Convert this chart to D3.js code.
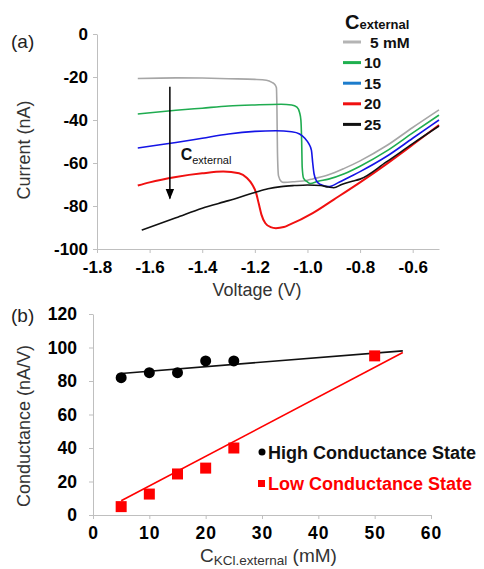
<!DOCTYPE html>
<html>
<head>
<meta charset="utf-8">
<script src="https://cdn.jsdelivr.net/npm/d3@7/dist/d3.min.js"></script>
<style>
  body { margin: 0; background: #fff; }
  svg { font-family: "Liberation Sans", Arial, sans-serif; }
  .tick text { font-weight: bold; fill: #000; }
  .domain, .tick line { stroke: #bfbfbf; }
</style>
</head>
<body>
<div id="chart"></div>
<script>
// ---- panel (a): I-V curves, [voltage V, current nA]
const curve5 = [[-1.645,-20.7],[-1.5,-20.4],[-1.4,-20.5],[-1.3,-20.8],[-1.2,-21.1],[-1.156,-21.5],[-1.135,-22.5],
  [-1.124,-23.5],[-1.118,-25],[-1.116,-35],[-1.114,-55],[-1.11,-66],[-1.1,-68.5],[-1.09,-69],[-1.05,-68.7],
  [-1.0,-68],[-0.98,-67.4],[-0.92,-65.5],[-0.86,-62.5],[-0.8,-59],[-0.7,-52],[-0.6,-43.5],[-0.5,-35.3]];
const curve10 = [[-1.645,-37.2],[-1.5,-35.5],[-1.4,-34.5],[-1.3,-33.5],[-1.2,-33],[-1.1,-32.7],[-1.06,-33],
  [-1.04,-34],[-1.03,-36.5],[-1.025,-40],[-1.022,-50],[-1.02,-62],[-1.015,-67],[-1.0,-68.8],[-0.99,-69.5],
  [-0.96,-68.5],[-0.92,-67.5],[-0.86,-65],[-0.8,-61.5],[-0.7,-54.5],[-0.6,-46],[-0.5,-37.7]];
const curve15 = [[-1.645,-53],[-1.5,-50.5],[-1.4,-48.5],[-1.3,-46.5],[-1.2,-45.3],[-1.12,-45],[-1.06,-45.5],
  [-1.03,-46.5],[-1.01,-48.5],[-0.995,-51],[-0.985,-54],[-0.98,-60],[-0.975,-65],[-0.965,-68.5],[-0.95,-70],
  [-0.92,-71],[-0.88,-69],[-0.84,-66.5],[-0.8,-64],[-0.7,-57],[-0.6,-48.5],[-0.5,-40]];
const curve20 = [[-1.645,-70.5],[-1.6,-69],[-1.5,-66.5],[-1.4,-64.8],[-1.32,-64],[-1.26,-64.8],[-1.23,-67],
  [-1.21,-70],[-1.195,-74],[-1.185,-79],[-1.175,-84],[-1.16,-88],[-1.14,-89.8],[-1.12,-90.3],[-1.09,-89.8],
  [-1.07,-88.8],[-0.98,-83.3],[-0.9,-77],[-0.8,-69],[-0.7,-60.5],[-0.6,-51.5],[-0.5,-42.3]];
const curve25 = [[-1.63,-91.2],[-1.5,-85.5],[-1.4,-81],[-1.3,-77.5],[-1.2,-73.7],[-1.15,-72],[-1.1,-71],
  [-1.05,-70.5],[-1.0,-70.2],[-0.95,-70.5],[-0.92,-71.2],[-0.9,-71.5],[-0.87,-70],[-0.83,-68.5],[-0.8,-67.5],
  [-0.7,-59.5],[-0.6,-51],[-0.5,-42.8]];

const ivLabels = ["5 mM", "10", "15", "20", "25"];
const ivColors = ["#a6a6a6", "#1fac50", "#1414e6", "#f01010", "#111111"];
const legendColors = ["#b4b4b4", "#1fb04f", "#1c7ccc", "#f01010", "#111111"];
const ivCurves = [curve5, curve10, curve15, curve20, curve25];

const voltTicks = [-1.8, -1.6, -1.4, -1.2, -1.0, -0.8, -0.6];
const currTicks = [0, -20, -40, -60, -80, -100];

// ---- panel (b): conductance vs external KCl
const concHigh = [5, 10, 15, 20, 25];
const condHigh = [82, 85, 85, 92, 92];
const concLow = [5, 10, 15, 20, 25, 50];
const condLow = [5, 12.5, 24.5, 28, 40, 95];
const fitHigh = [[5, 84.5], [55, 98]];
const fitLow = [[5, 8.5], [55, 97]];
const concTicks = [0, 10, 20, 30, 40, 50, 60];
const condTicks = [0, 20, 40, 60, 80, 100, 120];

const svg = d3.select("#chart").append("svg")
  .attr("width", 484).attr("height", 569);

// arrowhead
svg.append("defs").append("marker")
  .attr("id", "arrow").attr("viewBox", "0 0 10 10")
  .attr("refX", 9).attr("refY", 5)
  .attr("markerWidth", 7).attr("markerHeight", 7)
  .attr("orient", "auto")
  .append("path").attr("d", "M0,1 L10,5 L0,9 Z").attr("fill", "#000");

// ================= (a)
const xA = d3.scaleLinear().domain([-1.8, -0.5]).range([97, 439]);
const yA = d3.scaleLinear().domain([-100, 0]).range([249, 34]);

svg.append("g")
  .attr("transform", "translate(0,249)")
  .call(d3.axisBottom(xA).tickValues(voltTicks).tickFormat(d => d.toFixed(1))
    .tickSize(4).tickSizeOuter(0).tickPadding(8))
  .call(g => g.selectAll("text").style("font-size", "17px"));

svg.append("g")
  .attr("transform", "translate(97,0)")
  .call(d3.axisLeft(yA).tickValues(currTicks).tickFormat(d => String(d))
    .tickSize(4).tickSizeOuter(0).tickPadding(5))
  .call(g => g.selectAll("text").style("font-size", "17px"));

const line = d3.line()
  .x(d => xA(d[0])).y(d => yA(d[1]))
  .curve(d3.curveMonotoneX);

svg.append("g").selectAll("path")
  .data(ivCurves)
  .join("path")
  .attr("d", line)
  .attr("fill", "none")
  .attr("stroke", (d, i) => ivColors[i])
  .attr("stroke-width", (d, i) => i === 3 ? 2 : 1.6);

// arrow C_external
svg.append("line")
  .attr("x1", xA(-1.523)).attr("x2", xA(-1.523))
  .attr("y1", yA(-24.5)).attr("y2", yA(-76.5))
  .attr("stroke", "#000").attr("stroke-width", 1.5)
  .attr("marker-end", "url(#arrow)");

const arrowLbl = svg.append("text")
  .attr("x", xA(-1.482)).attr("y", yA(-58.5))
  .style("font-size", "16px").style("font-weight", "bold").attr("fill", "#111");
arrowLbl.append("tspan").text("C");
arrowLbl.append("tspan").attr("dy", 4).style("font-size", "11px").style("font-weight", "normal").text("external");

// legend (a)
const legTitle = svg.append("text").attr("x", 345).attr("y", 29).style("font-weight", "bold").attr("fill", "#111");
legTitle.append("tspan").style("font-size", "20px").text("C");
legTitle.append("tspan").style("font-size", "13px").text("external");

const legA = svg.append("g").selectAll("g")
  .data(ivLabels)
  .join("g")
  .attr("transform", (d, i) => `translate(0,${42 + i * 20.6})`);
legA.append("line")
  .attr("x1", 343).attr("x2", 361)
  .attr("stroke", (d, i) => legendColors[i])
  .attr("stroke-width", 3);
legA.append("text")
  .attr("x", (d, i) => i === 0 ? 370 : 364)
  .attr("y", 5.5)
  .style("font-size", "15.5px").style("font-weight", "bold").attr("fill", "#111")
  .text(d => d);

svg.append("text").attr("x", 11).attr("y", 48).style("font-size", "19px").attr("fill", "#222").text("(a)");
svg.append("text").attr("x", 257).attr("y", 296).attr("text-anchor", "middle")
  .style("font-size", "18px").attr("fill", "#333").text("Voltage (V)");
svg.append("text").attr("transform", "translate(30,150) rotate(-90)").attr("text-anchor", "middle")
  .style("font-size", "18px").attr("fill", "#333").text("Current (nA)");

// ================= (b)
const xB = d3.scaleLinear().domain([0, 60]).range([93, 431]);
const yB = d3.scaleLinear().domain([0, 120]).range([515, 314]);

svg.append("g")
  .attr("transform", "translate(0,515)")
  .call(d3.axisBottom(xB).tickValues(concTicks).tickFormat(d => String(d))
    .tickSize(4).tickSizeOuter(0).tickPadding(8))
  .call(g => g.selectAll("text").style("font-size", "17.5px").style("letter-spacing", "1px"));

svg.append("g")
  .attr("transform", "translate(93,0)")
  .call(d3.axisLeft(yB).tickValues(condTicks).tickFormat(d => String(d))
    .tickSize(4).tickSizeOuter(0).tickPadding(12))
  .call(g => g.selectAll("text").style("font-size", "17.5px"));

const fitLine = d3.line().x(d => xB(d[0])).y(d => yB(d[1]));
svg.append("path").attr("d", fitLine(fitHigh)).attr("stroke", "#111").attr("stroke-width", 1.6).attr("fill", "none");
svg.append("path").attr("d", fitLine(fitLow)).attr("stroke", "#f00").attr("stroke-width", 1.6).attr("fill", "none");

svg.append("g").selectAll("circle")
  .data(concHigh)
  .join("circle")
  .attr("cx", d => xB(d))
  .attr("cy", (d, i) => yB(condHigh[i]))
  .attr("r", 5.5)
  .attr("fill", "#000");

svg.append("g").selectAll("rect")
  .data(concLow)
  .join("rect")
  .attr("x", d => xB(d) - 5.5)
  .attr("y", (d, i) => yB(condLow[i]) - 5.5)
  .attr("width", 11).attr("height", 11)
  .attr("fill", "#f00");

// legend (b)
svg.append("circle").attr("cx", 262).attr("cy", 452).attr("r", 3.5).attr("fill", "#000");
svg.append("text").attr("x", 268).attr("y", 458.5).style("font-size", "18px").style("font-weight", "bold")
  .attr("fill", "#111").text("High Conductance State");
svg.append("rect").attr("x", 258).attr("y", 480).attr("width", 7).attr("height", 7).attr("fill", "#f00");
svg.append("text").attr("x", 268).attr("y", 489.5).style("font-size", "18px").style("font-weight", "bold")
  .attr("fill", "#f00").text("Low Conductance State");

svg.append("text").attr("x", 11).attr("y", 322).style("font-size", "19px").attr("fill", "#222").text("(b)");
svg.append("text").attr("transform", "translate(30,426) rotate(-90)").attr("text-anchor", "middle")
  .style("font-size", "18px").attr("fill", "#333").text("Conductance (nA/V)");

const xLblB = svg.append("text").attr("x", 200).attr("y", 562).style("font-size", "19px").attr("fill", "#333");
xLblB.append("tspan").text("C");
xLblB.append("tspan").attr("dy", 2.5).style("font-size", "13.5px").text("KCl.external");
xLblB.append("tspan").attr("dy", -2.5).text(" (mM)");
</script>
</body>
</html>
